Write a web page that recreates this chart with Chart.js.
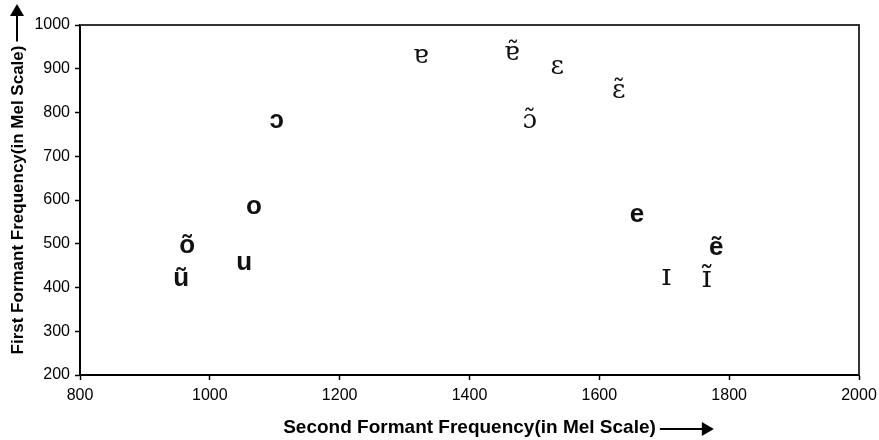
<!DOCTYPE html>
<html>
<head>
<meta charset="utf-8">
<script src="https://cdn.jsdelivr.net/npm/chart.js@4.4.1/dist/chart.umd.min.js"></script>
<style>
  html, body { margin: 0; padding: 0; background: #fff; }
  #wrap { width: 879px; height: 440px; }
</style>
</head>
<body>
<div id="wrap"><canvas id="vowelChart"></canvas></div>
<script>
// vowel symbols and their formant values (Mel)
const vowels = ["ɐ", "ɐ̃", "ɛ", "ɛ̃", "ɔ", "ɔ̃", "o", "õ", "u", "ũ", "e", "ẽ", "ɪ", "ɪ̃"];
const f2 = [1325, 1465, 1535, 1630, 1103, 1493, 1068, 965, 1053, 956, 1658, 1780, 1703, 1765];
const f1 = [930, 935, 905, 850, 780, 780, 585, 495, 455, 420, 565, 490, 425, 420];
const xTicks = [800, 1000, 1200, 1400, 1600, 1800, 2000];
const yTicks = [200, 300, 400, 500, 600, 700, 800, 900, 1000];

const points = f2.map((x, i) => ({ x: x, y: f1[i] }));

// draws each vowel symbol at its point
const vowelLabels = {
  id: "vowelLabels",
  afterDatasetsDraw(chart) {
    const ctx = chart.ctx;
    const meta = chart.getDatasetMeta(0);
    ctx.save();
    ctx.fillStyle = "#111";
    ctx.textAlign = "center";
    ctx.textBaseline = "alphabetic";
    meta.data.forEach((pt, i) => {
      const s = vowels[i];
      const base = s.charAt(0);
      let size = 26;
      if (base === "ɪ") {
        size = 30;
        ctx.font = size + "px 'DejaVu Serif'";
      } else if ("ɐɛ".includes(base) || s === "ɔ̃") {
        ctx.font = size + "px 'DejaVu Serif'";
      } else {
        ctx.font = "bold " + size + "px 'Liberation Sans'";
      }
      ctx.fillText(s, pt.x, pt.y + size * 0.27);
    });
    ctx.restore();
  }
};

// plot frame and the arrows next to the axis titles
const frameAndArrows = {
  id: "frameAndArrows",
  afterDraw(chart) {
    const ctx = chart.ctx;
    const a = chart.chartArea;
    ctx.save();
    ctx.strokeStyle = "#333";
    ctx.lineWidth = 2;
    ctx.beginPath();
    ctx.moveTo(a.left, a.top);
    ctx.lineTo(a.right, a.top);
    ctx.lineTo(a.right, a.bottom);
    ctx.stroke();

    ctx.fillStyle = "#000";
    ctx.strokeStyle = "#000";
    // x title arrow
    const xs = chart.scales.x;
    ctx.font = "bold 19px 'Liberation Sans'";
    const xw = ctx.measureText(xs.options.title.text).width;
    const xc = (a.left + a.right) / 2;
    const ay = 429;
    const x0 = xc + xw / 2 + 4, x1 = x0 + 54;
    ctx.beginPath();
    ctx.moveTo(x0, ay);
    ctx.lineTo(x1 - 10, ay);
    ctx.stroke();
    ctx.beginPath();
    ctx.moveTo(x1, ay);
    ctx.lineTo(x1 - 12, ay - 7);
    ctx.lineTo(x1 - 12, ay + 7);
    ctx.closePath();
    ctx.fill();
    // y title arrow
    const ys = chart.scales.y;
    ctx.font = "bold 17px 'Liberation Sans'";
    const yw = ctx.measureText(ys.options.title.text).width;
    const yc = (a.top + a.bottom) / 2;
    const ax = 17;
    const y0 = yc - yw / 2 - 4, y1 = 4;
    ctx.beginPath();
    ctx.moveTo(ax, y0);
    ctx.lineTo(ax, y1 + 10);
    ctx.stroke();
    ctx.beginPath();
    ctx.moveTo(ax, y1);
    ctx.lineTo(ax - 7, y1 + 12);
    ctx.lineTo(ax + 7, y1 + 12);
    ctx.closePath();
    ctx.fill();
    ctx.restore();
  }
};

const tickFont = { family: "'Liberation Sans'", size: 16 };

new Chart(document.getElementById("vowelChart"), {
  type: "scatter",
  data: {
    datasets: [{
      data: points,
      pointRadius: 0,
      pointHoverRadius: 0
    }]
  },
  options: {
    responsive: true,
    maintainAspectRatio: false,
    animation: false,
    layout: { padding: { top: 25, right: 20, left: 0, bottom: 0 } },
    plugins: { legend: { display: false }, tooltip: { enabled: false } },
    scales: {
      x: {
        type: "linear",
        min: 800,
        max: 2000,
        afterBuildTicks: s => { s.ticks = xTicks.map(v => ({ value: v })); },
        afterFit: s => { s.height = 65; s.paddingLeft = 0; s.paddingRight = 0; },
        border: { color: "#000", width: 2 },
        grid: { drawOnChartArea: false, tickLength: 5, color: "#000", tickWidth: 1.5 },
        ticks: { color: "#000", font: tickFont, padding: 6, maxRotation: 0, callback: v => String(v) },
        title: {
          display: true,
          text: "Second Formant Frequency(in Mel Scale)",
          color: "#000",
          font: { family: "'Liberation Sans'", size: 19, weight: "bold" },
          padding: { top: 11, bottom: 1 }
        }
      },
      y: {
        type: "linear",
        min: 200,
        max: 1000,
        afterBuildTicks: s => { s.ticks = yTicks.map(v => ({ value: v })); },
        afterFit: s => { s.width = 80; },
        border: { color: "#000", width: 2 },
        grid: { drawOnChartArea: false, tickLength: 5, color: "#000", tickWidth: 1.5 },
        ticks: { color: "#000", font: tickFont, padding: 5, callback: v => String(v) },
        title: {
          display: true,
          text: "First Formant Frequency(in Mel Scale)",
          color: "#000",
          font: { family: "'Liberation Sans'", size: 17, weight: "bold" },
          padding: { top: 8, bottom: 0 }
        }
      }
    }
  },
  plugins: [vowelLabels, frameAndArrows]
});
</script>
</body>
</html>
